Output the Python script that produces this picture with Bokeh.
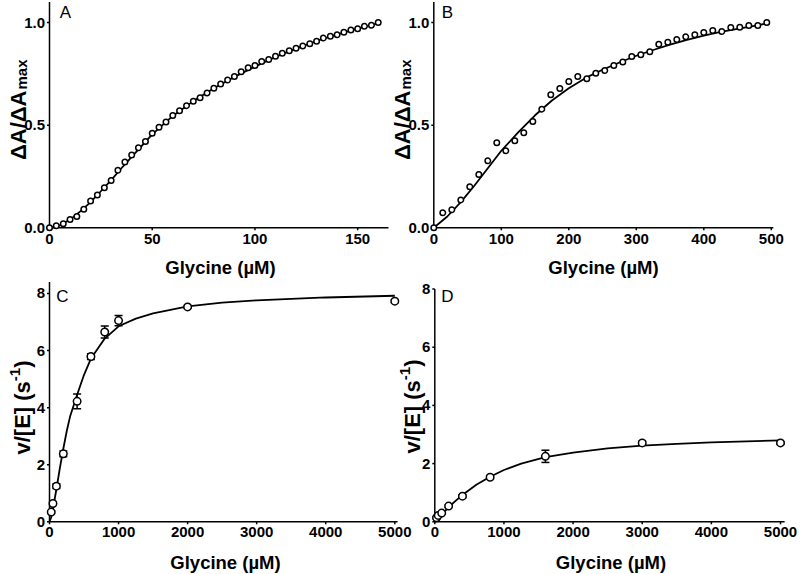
import math
from bokeh.plotting import figure
from bokeh.models import Label, Whisker, TeeHead, ColumnDataSource, Range1d
from bokeh.core.properties import value
from bokeh.embed import file_html
from bokeh.resources import INLINE

FONT = "Liberation Sans"
W, H = 800, 574

# ---------------- data ----------------
# Panel A
A_x = [0, 3.3, 6.7, 10, 13.3, 16.7, 20, 23.3, 26.7, 30, 33.3, 36.7, 40, 43.3, 46.7, 50,
       53.3, 56.7, 60, 63.3, 66.7, 70, 73.3, 76.7, 80, 83.3, 86.7, 90, 93.3, 96.7, 100,
       103.3, 106.7, 110, 113.3, 116.7, 120, 123.3, 126.7, 130, 133.3, 136.7, 140, 143.3,
       146.7, 150, 153.3, 156.7, 160]
A_y = [0.00, 0.01, 0.02, 0.04, 0.055, 0.09, 0.13, 0.16, 0.195, 0.23, 0.28, 0.32, 0.355,
       0.39, 0.42, 0.46, 0.49, 0.515, 0.547, 0.57, 0.595, 0.617, 0.633, 0.657, 0.68, 0.70,
       0.72, 0.737, 0.76, 0.78, 0.79, 0.81, 0.82, 0.835, 0.85, 0.863, 0.875, 0.886, 0.896,
       0.909, 0.924, 0.933, 0.94, 0.953, 0.963, 0.97, 0.982, 0.987, 1.00]
A_fit_x = [0, 5, 10, 15, 20, 25, 30, 35, 40, 50, 60, 70, 80, 90, 100, 110, 120, 130, 140, 150, 160]
A_fit_y = [0, 0.012, 0.04, 0.08, 0.125, 0.178, 0.232, 0.29, 0.345, 0.455, 0.545, 0.617, 0.68,
           0.735, 0.785, 0.832, 0.873, 0.91, 0.942, 0.97, 0.997]

# Panel B
B_x = [0, 13.3, 26.7, 40, 53.3, 66.7, 80, 93.3, 106.7, 120, 133.3, 146.7, 160, 173.3, 186.7,
       200, 213.3, 226.7, 240, 253.3, 266.7, 280, 293.3, 306.7, 320, 333.3, 346.7, 360,
       373.3, 386.7, 400, 413.3, 426.7, 440, 453.3, 466.7, 480, 493.3]
B_y = [0.0, 0.073, 0.088, 0.136, 0.20, 0.26, 0.326, 0.414, 0.375, 0.424, 0.463, 0.518, 0.578,
       0.648, 0.679, 0.713, 0.737, 0.726, 0.753, 0.766, 0.79, 0.808, 0.834, 0.843, 0.857,
       0.894, 0.904, 0.917, 0.930, 0.94, 0.951, 0.961, 0.956, 0.976, 0.977, 0.985, 0.985, 1.0]
B_fit_x = [0, 20, 40, 60, 80, 100, 125, 150, 175, 200, 225, 250, 275, 300, 325, 350, 375,
           400, 425, 450, 475, 495]
B_fit_y = [0, 0.055, 0.125, 0.205, 0.29, 0.375, 0.465, 0.548, 0.62, 0.68, 0.73, 0.77,
           0.805, 0.838, 0.866, 0.892, 0.915, 0.936, 0.954, 0.969, 0.984, 0.996]

# Panel C
C_x = [25, 50, 100, 200, 400, 600, 800, 1000, 2000, 5000]
C_y = [0.34, 0.64, 1.25, 2.38, 4.22, 5.79, 6.65, 7.05, 7.53, 7.73]
C_err = [0.05, 0.05, 0.08, 0.1, 0.26, 0.1, 0.21, 0.18, 0.05, 0.05]
C_fit_x = [0, 25, 50, 100, 150, 200, 250, 300, 400, 500, 600, 800, 1000, 1250, 1500, 2000,
           2500, 3000, 4000, 5000]
C_fit_y = [0, 0.16, 0.45, 1.14, 1.88, 2.56, 3.18, 3.71, 4.45, 5.15, 5.72, 6.42, 6.85, 7.12,
           7.3, 7.55, 7.68, 7.76, 7.86, 7.92]

# Panel D
D_x = [25, 50, 100, 200, 400, 800, 1600, 3000, 5000]
D_y = [0.14, 0.22, 0.30, 0.54, 0.88, 1.53, 2.25, 2.71, 2.71]
D_err = [0.03, 0.03, 0.03, 0.05, 0.05, 0.06, 0.21, 0.06, 0.05]
D_fit_x = [0, 50, 100, 200, 300, 400, 600, 800, 1000, 1250, 1600, 2000, 2500, 3000, 3500,
           4000, 5000]
D_fit_y = [0.0, 0.12, 0.25, 0.5, 0.72, 0.92, 1.27, 1.55, 1.78, 2.0, 2.22, 2.38, 2.52, 2.62,
           2.68, 2.73, 2.8]

A_xticks = [0, 50, 100, 150]
A_xlabels = ["0", "50", "100", "150"]
AB_yticks = [0, 0.5, 1.0]
AB_ylabels = ["0.0", "0.5", "1.0"]
B_xticks = [0, 100, 200, 300, 400, 500]
B_xlabels = ["0", "100", "200", "300", "400", "500"]
CD_xticks = [0, 1000, 2000, 3000, 4000, 5000]
CD_xlabels = ["0", "1000", "2000", "3000", "4000", "5000"]
CD_yticks = [0, 2, 4, 6, 8]
CD_ylabels = ["0", "2", "4", "6", "8"]

TITLE_PX = 22
SUB_PX = 15

# one canvas, frame = whole canvas; each panel gets its own pair of ranges
# panel geometry: page pixel of the data origin and pixels per data unit
GEOM = {
    "A": (49.0, 2.0545, 227.3, 205.3),
    "B": (433.3, 0.675, 227.3, 205.3),
    "C": (49.0, 0.06906, 521.3, 28.54),
    "D": (434.3, 0.06914, 521.3, 29.1),
}


def xr(name):
    x0, kx, _, _ = GEOM[name]
    return Range1d(-x0 / kx, (W - x0) / kx)


def yr(name):
    _, _, y0, ky = GEOM[name]
    return Range1d((y0 - H) / ky, y0 / ky)


p = figure(width=W, height=H, x_range=xr("A"), y_range=yr("A"),
           output_backend="svg", toolbar_location=None, title=None,
           x_axis_location=None, y_axis_location=None, min_border=0)
p.extra_x_ranges = {n: xr(n) for n in ("B", "C", "D")}
p.extra_y_ranges = {n: yr(n) for n in ("B", "C", "D")}
p.xgrid.visible = False
p.ygrid.visible = False
p.outline_line_color = None
p.background_fill_color = "white"
p.border_fill_color = "white"


def rn(name):
    return {} if name == "A" else dict(x_range_name=name, y_range_name=name)


def axes(name, xb, yb, xt, xl, yt, yl, xlab_off):
    _, kx, _, ky = GEOM[name]
    r = rn(name)
    p.segment(x0=[0, 0], y0=[0, 0], x1=[xb, 0], y1=[0, yb],
              line_color="black", line_width=1.5, **r)
    tlen = 2.5
    p.segment(x0=xt, y0=[0] * len(xt), x1=xt, y1=[-tlen / ky] * len(xt),
              line_color="black", line_width=1.5, **r)
    p.segment(x0=[0] * len(yt), y0=yt, x1=[-tlen / kx] * len(yt), y1=yt,
              line_color="black", line_width=1.5, **r)
    p.text(x=xt, y=[0] * len(xt), text=xl, y_offset=xlab_off,
           text_font=value(FONT), text_font_style="bold", text_font_size="15px",
           text_align="center", text_baseline="top", text_color="black", **r)
    p.text(x=[0] * len(yt), y=yt, text=yl, x_offset=-4.5,
           text_font=value(FONT), text_font_style="bold", text_font_size="15px",
           text_align="right", text_baseline="middle", text_color="black", **r)


def lab(x, y_from_top, text, size, bold=True, angle=0.0, align="center",
        baseline="middle"):
    p.add_layout(Label(x=x, y=H - y_from_top, x_units="screen", y_units="screen",
                       text=text, angle=angle, text_align=align,
                       text_baseline=baseline, text_font=FONT,
                       text_font_style="bold" if bold else "normal",
                       text_font_size=size, text_color="black"))


def da_title(x, y_junction):
    lab(x, y_junction, "ΔA/ΔA", f"{TITLE_PX}px", angle=math.pi / 2,
        align="right", baseline="alphabetic")
    lab(x + 3, y_junction - 1, "max", f"{SUB_PX}px", angle=math.pi / 2,
        align="left", baseline="alphabetic")


def v_title(x, y_bottom):
    w_main = 3.334 * TITLE_PX
    w_sup = 0.889 * SUB_PX
    lab(x, y_bottom, "v/[E] (s", f"{TITLE_PX}px", angle=math.pi / 2,
        align="left", baseline="alphabetic")
    lab(x - 8, y_bottom - w_main, "-1", f"{SUB_PX}px", angle=math.pi / 2,
        align="left", baseline="alphabetic")
    lab(x, y_bottom - w_main - w_sup, ")", f"{TITLE_PX}px", angle=math.pi / 2,
        align="left", baseline="alphabetic")


def data(name, px, py, fx, fy, size, err=None):
    r = rn(name)
    p.line(fx, fy, line_color="black", line_width=1.8, **r)
    if err is not None:
        src = ColumnDataSource(dict(x=px, upper=[a + b for a, b in zip(py, err)],
                                    lower=[a - b for a, b in zip(py, err)]))
        p.add_layout(Whisker(source=src, base="x", upper="upper", lower="lower",
                             line_width=1.5, line_color="black",
                             upper_head=TeeHead(size=8, line_width=1.5),
                             lower_head=TeeHead(size=8, line_width=1.5), **r))
    p.scatter(px, py, marker="circle", size=size, fill_color="white",
              line_color="black", line_width=1.5, **r)


# Panel A
axes("A", 165, 1.1, A_xticks, A_xlabels, AB_yticks, AB_ylabels, 6.2)
data("A", A_x, A_y, A_fit_x, A_fit_y, 5.5)
lab(65, 12, "A", "17px", bold=False)
lab(220, 267, "Glycine (µM)", "18.5px")
da_title(18, 90)

# Panel B
axes("B", 503, 1.1, B_xticks, B_xlabels, AB_yticks, AB_ylabels, 6.2)
data("B", B_x, B_y, B_fit_x, B_fit_y, 5.5)
lab(447, 12, "B", "17px", bold=False)
lab(603, 267, "Glycine (µM)", "18.5px")
da_title(402.3, 90)

# Panel C
axes("C", 5040, 8.4, CD_xticks, CD_xlabels, CD_yticks, CD_ylabels, 5.5)
data("C", C_x, C_y, C_fit_x, C_fit_y, 7.5, C_err)
lab(62, 296, "C", "17px", bold=False)
lab(225, 562.3, "Glycine (µM)", "18.5px")
v_title(22, 454)

# Panel D
axes("D", 5060, 8, CD_xticks, CD_xlabels, CD_yticks, CD_ylabels, 5.5)
data("D", D_x, D_y, D_fit_x, D_fit_y, 7.5, D_err)
lab(447, 296, "D", "17px", bold=False)
lab(610.5, 562.3, "Glycine (µM)", "18.5px")
v_title(412.0, 453)

with open("out.html", "w") as f:
    f.write(file_html(p, INLINE))
